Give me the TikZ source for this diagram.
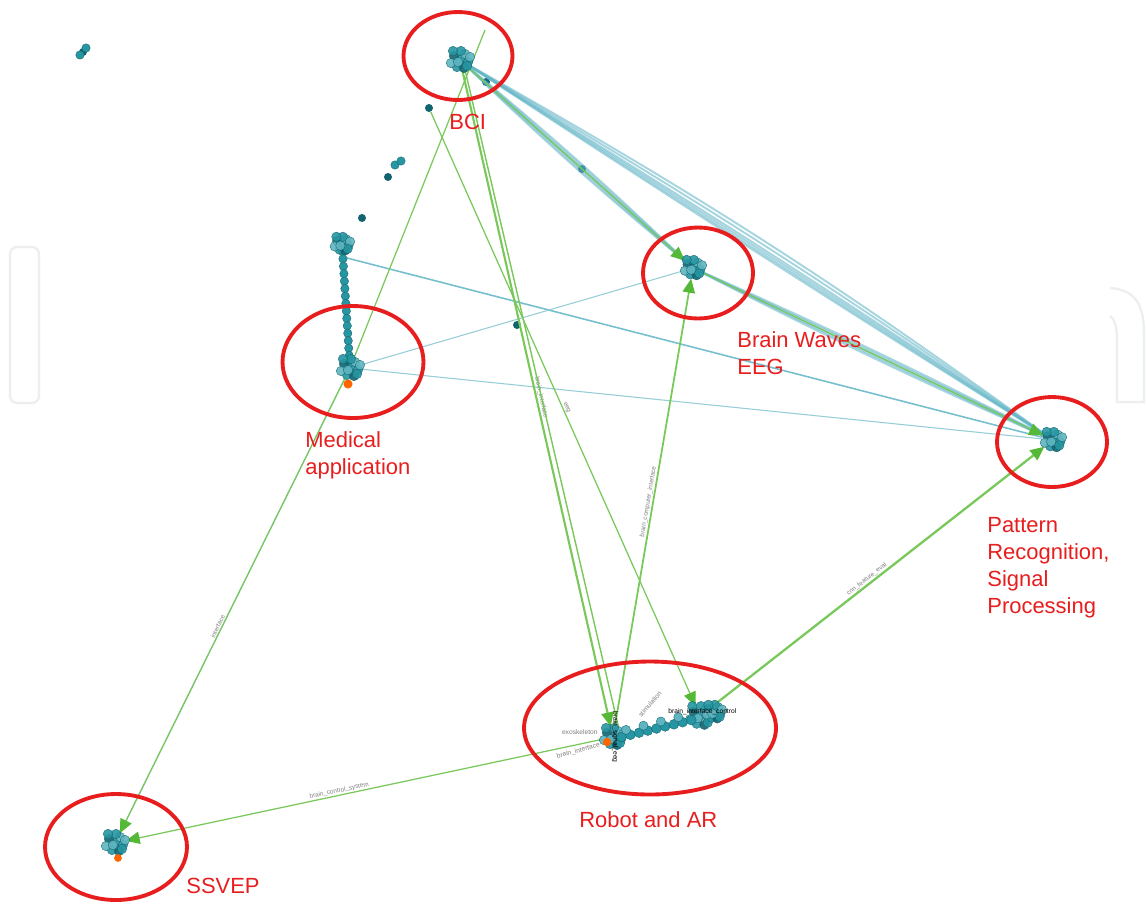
\documentclass[tikz,border=0pt]{standalone}
\usepackage{fontspec}
\setmainfont{Liberation Sans}
\usetikzlibrary{arrows.meta,shapes.geometric,calc}
\definecolor{tealA}{RGB}{38,150,162}
\definecolor{tealB}{RGB}{18,100,112}
\definecolor{tealC}{RGB}{95,182,192}
\definecolor{edgeT}{RGB}{95,180,198}
\definecolor{edgeL}{RGB}{150,205,216}
\definecolor{grn}{RGB}{120,200,90}
\definecolor{arrG}{RGB}{85,185,55}
\definecolor{redE}{RGB}{232,30,30}
\definecolor{artG}{RGB}{236,238,239}
\newcommand{\myblob}[2]{%
  \foreach \dx/\dy/\bc in {0/0/tealA,-6/-4/tealB,5/-6/tealC,8/2/tealA,-3/7/tealA,4/8/tealB,-9/3/tealC,1/-9/tealA,10/-3/tealC,-7/-9/tealA,7/6/tealA,-2/2/tealC}{%
    \filldraw[fill=\bc,draw=tealB,line width=0.2pt,fill opacity=0.9] ([shift={(#2*\dx,#2*\dy)}]#1) circle (2.7pt);}}
\begin{document}
\begin{tikzpicture}[x=0.02cm,y=-0.02cm,
  hub/.style={circle,inner sep=0pt,minimum size=0.42cm},
  dotn/.style={circle,inner sep=0pt,minimum size=0.16cm,fill=tealB},
  ring/.style={ellipse,draw=redE,line width=2.2pt,inner sep=0pt},
  lbl/.style={text=redE,font=\fontsize{12.5}{15}\selectfont,anchor=base west,inner sep=0pt},
  tb/.style={draw=edgeT,line width=1.1pt,opacity=0.55},
  tt/.style={draw=edgeT,line width=0.9pt,opacity=0.85},
  tl/.style={draw=edgeL,line width=0.6pt},
  gl/.style={draw=grn,line width=0.7pt},
  ga/.style={gl,-{Triangle[length=8pt,width=7pt,color=arrG]}},
  elab/.style={sloped,text=gray,font=\fontsize{3.6}{4}\selectfont,inner sep=0.5pt},
  clab/.style={font=\fontsize{3.8}{4}\selectfont,inner sep=0pt}]
\useasboundingbox[fill=white] (0,0) rectangle (1146,904);
% faint page artefacts
\draw[artG,line width=1.3pt,rounded corners=4pt] (10,247) rectangle (39,403);
\draw[artG,line width=1.3pt] (1110,288) .. controls (1138,290) and (1144,308) .. (1144,335) -- (1144,402) -- (1117,402) -- (1117,340) .. controls (1117,326) and (1114,318) .. (1110,316);
% hubs
\node[hub] (bci) at (460,60) {};
\node[hub] (bw) at (693,268) {};
\node[hub] (med) at (350,368) {};
\node[hub] (medtop) at (342,244) {};
\node[hub] (pat) at (1053,440) {};
\node[hub] (robA) at (613,737) {};
\node[hub] (robB) at (700,716) {};
\node[hub] (ssvep) at (115,843) {};
\coordinate (c1) at (485,30);
\coordinate (mts) at (347,258);
\node[dotn] (d1) at (83,52) {};
\node[dotn] (d2) at (429,108) {};
\node[dotn] (d3) at (362,218) {};
\node[dotn] (d4) at (388,177) {};
\node[dotn] (d5) at (517,325) {};
\node[dotn] (d6) at (486,82) {};
\node[dotn] (d7) at (582,169) {};
% teal edges
\foreach \b in {-2,-1,0,1,2} \draw[tb] (bci) to[bend left=\b] (bw);
\foreach \b in {-0.5,0,0.6,1.2,2.2,3.2} \draw[tb] (bci) to[bend left=\b] (pat);
\foreach \b in {-1.5,-0.5,0.5,1.5} \draw[tb,line width=1.3pt] (bw) to[bend left=\b] (pat);
\draw[tt] (mts) -- (pat);
\draw[tl] (med) -- (pat);
\draw[tl] (med) -- (bw);
\draw[tl,draw=edgeT!80] (med) -- (ssvep);
\draw[tt,line width=1.6pt] (medtop) -- (med);
% green edges
\draw[gl] (med) -- (c1);
\draw[ga] (med) -- node[elab,pos=0.55,above] {interface} (ssvep);
\draw[ga,line width=1.2pt] (bci) -- node[elab,pos=0.5,above] {brain\_interface} (robA);
\draw[gl,line width=0.8pt] ([xshift=3]bci.south) -- ([xshift=3]robA.north);
\draw[ga] (d2) -- node[elab,pos=0.5,above] {eeg} (robB);
\draw[ga,line width=1pt] (robA) -- node[elab,pos=0.5,above] {brain\_computer\_interface} (bw);
\draw[ga,line width=1.3pt] (robB) -- node[elab,pos=0.48,above] {cnn\_feature\_eval} (pat);
\draw[ga] (robA) -- node[elab,pos=0.55,above] {brain\_control\_system} (ssvep);
\draw[ga] (bci) -- (bw);
\draw[ga] (bw) -- (pat);
% stem of medical cluster
\foreach \t in {0,0.06,...,1} \filldraw[fill=tealA,draw=tealB,line width=0.2pt] ($(medtop)!\t!(med)$) circle (2.4pt);
% clusters
\myblob{bci}{1}
\myblob{bw}{0.9}
\myblob{pat}{0.9}
\myblob{med}{1}
\myblob{medtop}{0.8}
\myblob{ssvep}{1}
\myblob{robA}{1}
\myblob{robB}{1.1}
\foreach \t in {0.1,0.2,...,0.9} \filldraw[fill=tealA,draw=tealB,line width=0.2pt] ($(robA)!\t!(robB)+(0,2)$) circle (2.8pt);
\foreach \t in {0.15,0.35,0.55,0.75} \filldraw[fill=tealC,draw=tealB,line width=0.2pt] ($(robA)!\t!(robB)+(0,-4)$) circle (2.6pt);
\myblob{$(robB)+(14,-4)$}{0.8}
\filldraw[fill=orange!80!red,draw=none] (348,384) circle (2.6pt);
\filldraw[fill=orange!80!red,draw=none] (607,742) circle (2.4pt);
\filldraw[fill=orange!80!red,draw=none] (118,858) circle (2.2pt);
\foreach \p in {(80,55),(86,48),(395,165),(401,161)} \filldraw[fill=tealA,draw=tealB,line width=0.2pt] \p circle (2.4pt);
% small cluster labels
\node[clab,anchor=west,text=black] (rl1) at (668,712) {brain\_interface\_control};
\node[clab,anchor=east,text=gray] (rl2) at (598,732) {exoskeleton};
\node[clab,anchor=east,text=gray,rotate=15] (rl3) at (600,745) {brain\_interface};
\node[clab,text=black,rotate=-90] (rl4) at (615,737) {brain\_signal\_eeg};
\node[clab,text=gray,rotate=50] (rl5) at (650,704) {stimulation};
% red rings
\node[ring,minimum width=2.18cm,minimum height=1.76cm] (bciR) at (458,56) {};
\node[ring,minimum width=2.2cm,minimum height=1.82cm] (bwR) at (698,273) {};
\node[ring,minimum width=2.82cm,minimum height=2.24cm] (medR) at (353,362) {};
\node[ring,minimum width=2.2cm,minimum height=1.8cm] (patR) at (1052,442) {};
\node[ring,minimum width=5.04cm,minimum height=2.66cm] (robR) at (650,728) {};
\node[ring,minimum width=2.84cm,minimum height=2.12cm] (ssR) at (116,847) {};
% labels
\node[lbl] (tBCI) at (449,129) {BCI};
\node[lbl] (tBW1) at (737,347) {Brain Waves};
\node[lbl] (tBW2) at (737,374) {EEG};
\node[lbl] (tMA1) at (305,447) {Medical};
\node[lbl] (tMA2) at (305,474) {application};
\node[lbl] (tP1) at (987,532) {Pattern};
\node[lbl] (tP2) at (987,559) {Recognition,};
\node[lbl] (tP3) at (987,586) {Signal};
\node[lbl] (tP4) at (987,613) {Processing};
\node[lbl] (tRob) at (579,827) {Robot and AR};
\node[lbl] (tSS) at (186,893) {SSVEP};
\end{tikzpicture}
\end{document}
